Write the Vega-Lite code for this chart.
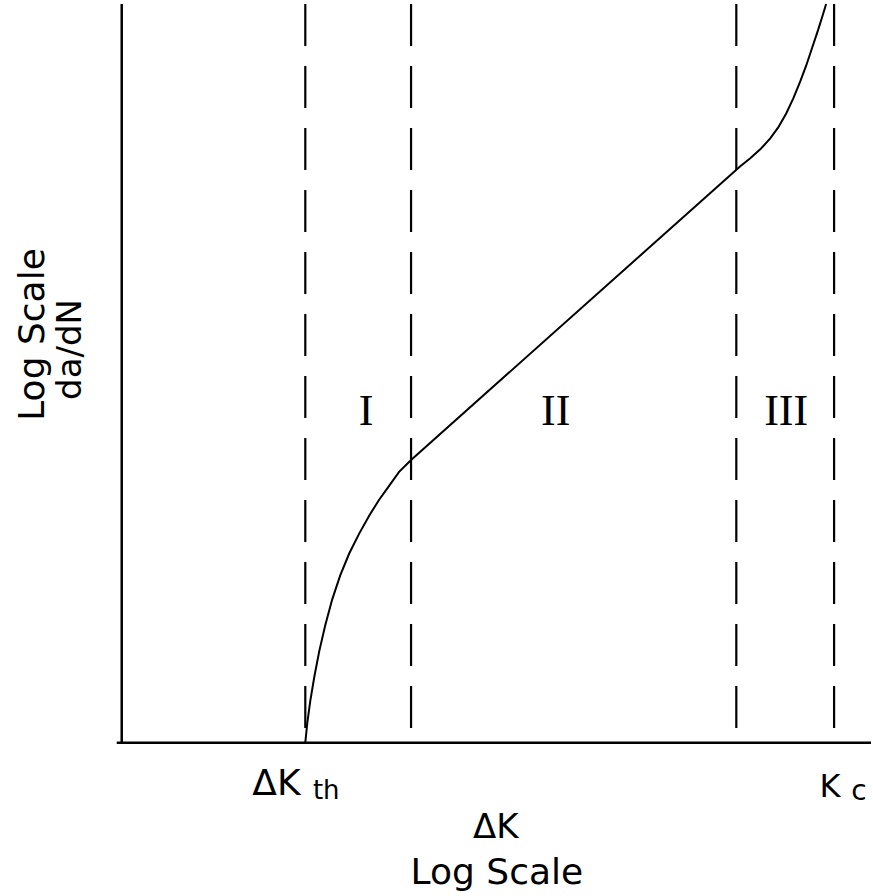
{
  "$schema": "https://vega.github.io/schema/vega-lite/v6.json",
  "width": 873,
  "height": 896,
  "autosize": {"type": "fit", "contains": "padding"},
  "padding": 0,
  "background": "white",
  "config": {"view": {"stroke": null}},
  "datasets": {
    "curve": [
      {"k": 306, "v": 0, "i": 0},
      {"k": 308, "v": 20, "i": 1},
      {"k": 311, "v": 42, "i": 2},
      {"k": 315, "v": 66, "i": 3},
      {"k": 320, "v": 92, "i": 4},
      {"k": 326, "v": 118, "i": 5},
      {"k": 333, "v": 144, "i": 6},
      {"k": 341, "v": 168, "i": 7},
      {"k": 350, "v": 190, "i": 8},
      {"k": 360, "v": 210, "i": 9},
      {"k": 370, "v": 228, "i": 10},
      {"k": 380, "v": 244, "i": 11},
      {"k": 390, "v": 258, "i": 12},
      {"k": 400, "v": 272, "i": 13},
      {"k": 412, "v": 284, "i": 14},
      {"k": 742, "v": 579, "i": 15},
      {"k": 752, "v": 587, "i": 16},
      {"k": 762, "v": 596, "i": 17},
      {"k": 772, "v": 607, "i": 18},
      {"k": 780, "v": 618, "i": 19},
      {"k": 788, "v": 632, "i": 20},
      {"k": 795, "v": 647, "i": 21},
      {"k": 802, "v": 664, "i": 22},
      {"k": 808, "v": 680, "i": 23},
      {"k": 814, "v": 698, "i": 24},
      {"k": 820, "v": 716, "i": 25},
      {"k": 825, "v": 732, "i": 26},
      {"k": 828, "v": 742, "i": 27}
    ],
    "dashed": [
      {"k": 306, "v0": 0, "v1": 742},
      {"k": 412, "v0": 0, "v1": 742},
      {"k": 738, "v0": 0, "v1": 742},
      {"k": 836, "v0": 0, "v1": 742}
    ],
    "roman": [
      {"k": 367, "v": 332, "t": "I"},
      {"k": 557, "v": 332, "t": "II"},
      {"k": 788, "v": 332, "t": "III"}
    ],
    "labels": [
      {"k": 277, "v": -53, "t": "ΔK", "s": 36},
      {"k": 327, "v": -57, "t": "th", "s": 26},
      {"k": 832, "v": -55, "t": "K", "s": 32},
      {"k": 861, "v": -58, "t": "c", "s": 28},
      {"k": 497, "v": -96, "t": "ΔK", "s": 34},
      {"k": 498, "v": -142, "t": "Log Scale", "s": 36}
    ],
    "ylabels": [
      {"k": 44, "v": 410, "t": "Log Scale", "s": 36},
      {"k": 81, "v": 395, "t": "da/dN", "s": 34}
    ]
  },
  "layer": [
    {
      "data": {"values": [{"k": 122, "v0": 0, "v1": 742}]},
      "mark": {"type": "rule", "stroke": "black", "strokeWidth": 2.5},
      "encoding": {
        "x": {"field": "k", "type": "quantitative", "scale": {"domain": [0, 873], "zero": false, "nice": false}, "axis": null},
        "y": {"field": "v0", "type": "quantitative", "scale": {"domain": [-154, 742], "zero": false, "nice": false}, "axis": null},
        "y2": {"field": "v1"}
      }
    },
    {
      "data": {"values": [{"k0": 117, "k1": 873, "v": 0}]},
      "mark": {"type": "rule", "stroke": "black", "strokeWidth": 2.5},
      "encoding": {
        "x": {"field": "k0", "type": "quantitative"},
        "x2": {"field": "k1"},
        "y": {"field": "v", "type": "quantitative"}
      }
    },
    {
      "data": {"name": "dashed"},
      "mark": {"type": "rule", "stroke": "black", "strokeWidth": 2.2, "strokeDash": [42, 20]},
      "encoding": {
        "x": {"field": "k", "type": "quantitative"},
        "y": {"field": "v1", "type": "quantitative"},
        "y2": {"field": "v0"}
      }
    },
    {
      "data": {"name": "curve"},
      "mark": {"type": "line", "stroke": "black", "strokeWidth": 2, "interpolate": "linear"},
      "encoding": {
        "x": {"field": "k", "type": "quantitative"},
        "y": {"field": "v", "type": "quantitative"},
        "order": {"field": "i", "type": "quantitative"}
      }
    },
    {
      "data": {"name": "roman"},
      "mark": {"type": "text", "font": "Liberation Serif", "fontSize": 44, "baseline": "middle", "align": "center", "color": "black"},
      "encoding": {
        "x": {"field": "k", "type": "quantitative"},
        "y": {"field": "v", "type": "quantitative"},
        "text": {"field": "t"}
      }
    },
    {
      "data": {"name": "labels"},
      "mark": {"type": "text", "font": "DejaVu Sans", "baseline": "alphabetic", "align": "center", "color": "black"},
      "encoding": {
        "x": {"field": "k", "type": "quantitative"},
        "y": {"field": "v", "type": "quantitative"},
        "text": {"field": "t"},
        "size": {"field": "s", "type": "quantitative", "scale": null}
      }
    },
    {
      "data": {"name": "ylabels"},
      "mark": {"type": "text", "font": "DejaVu Sans", "baseline": "alphabetic", "align": "center", "angle": 270, "color": "black"},
      "encoding": {
        "x": {"field": "k", "type": "quantitative"},
        "y": {"field": "v", "type": "quantitative"},
        "text": {"field": "t"},
        "size": {"field": "s", "type": "quantitative", "scale": null}
      }
    }
  ]
}
